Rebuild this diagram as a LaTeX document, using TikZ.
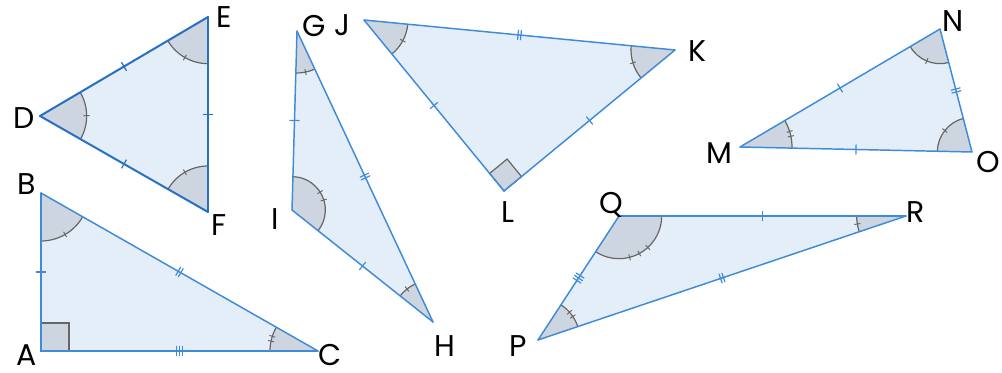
\documentclass[tikz,border=0pt]{standalone}
\usepackage{fontspec}
\setmainfont{Poppins}
\usetikzlibrary{calc,decorations.markings}
\definecolor{trifillc}{HTML}{E4EEF8}
\definecolor{edgec}{HTML}{3F8BD8}
\definecolor{edgedk}{HTML}{2670C4}
\definecolor{angfillc}{HTML}{CDD5E0}
\definecolor{arcc}{HTML}{666666}
\tikzset{
  trifill/.style={fill=trifillc},
  edge/.style={draw=edgec, line width=1.1pt, line cap=round, line join=round},
  edgedark/.style={draw=edgedk, line width=1.5pt, line cap=round, line join=round},
  angfill/.style={fill=angfillc},
  arcline/.style={draw=arcc, line width=0.9pt},
  angtick/.style={draw=arcc, line width=0.7pt},
  lab/.style={inner sep=0pt, font=\fontsize{22.5}{22.5}\selectfont},
  tk1/.style={postaction=decorate, decoration={markings, mark=at position 0.5 with {
      \draw[draw=#1, line width=0.9pt] (0pt,-3.5pt)--(0pt,3.5pt);}}},
  tk2/.style={postaction=decorate, decoration={markings, mark=at position 0.5 with {
      \draw[draw=#1, line width=0.9pt] (-1.1pt,-3.5pt)--(-1.1pt,3.5pt) (1.1pt,-3.5pt)--(1.1pt,3.5pt);}}},
  tk3/.style={postaction=decorate, decoration={markings, mark=at position 0.5 with {
      \draw[draw=#1, line width=0.9pt] (-2.2pt,-3.5pt)--(-2.2pt,3.5pt) (0pt,-3.5pt)--(0pt,3.5pt) (2.2pt,-3.5pt)--(2.2pt,3.5pt);}}},
  tk1/.default=edgec, tk2/.default=edgec, tk3/.default=edgec
}
% #1 P1, #2 vertex, #3 P2, #4 radius (pt, number), #5 ticks, #6 tick spacing (deg)
\newcommand\angmk[6]{%
  \pgfmathanglebetweenpoints{\pgfpointanchor{#2}{center}}{\pgfpointanchor{#1}{center}}\let\aA\pgfmathresult
  \pgfmathanglebetweenpoints{\pgfpointanchor{#2}{center}}{\pgfpointanchor{#3}{center}}\let\aB\pgfmathresult
  \pgfmathsetmacro\aD{mod(\aB-\aA+540,360)-180}%
  \pgfmathsetmacro\aM{\aA+\aD/2}%
  \pgfmathsetmacro\rIn{#4-2.3}%
  \fill[angfill] (#2) -- ++(\aA:#4pt) arc[start angle=\aA, delta angle=\aD, radius=#4pt] -- cycle;
  \draw[arcline] (#2) ++(\aA:#4pt) arc[start angle=\aA, delta angle=\aD, radius=#4pt];
  \foreach \k in {1,...,#5} {%
    \pgfmathsetmacro\aT{\aM+(\k-(#5+1)/2)*#6}%
    \draw[angtick] (#2) ++(\aT:\rIn pt) -- ++(\aT:4.6pt);}%
}
% right angle square: #1 P1, #2 vertex, #3 P2, #4 side
\newcommand\rtmk[4]{%
  \path ($(#2)!#4!(#1)$) coordinate (sqa) ($(#2)!#4!(#3)$) coordinate (sqb);
  \filldraw[angfill, draw=arcc, line width=0.9pt] (#2) -- (sqa) -- ($(sqa)+(sqb)-(#2)$) -- (sqb) -- cycle;
}
\begin{document}
\begin{tikzpicture}[x=0.75pt, y=-0.75pt]
\useasboundingbox (0,0) rectangle (1002,373);
% vertices
\coordinate (D) at (40,116); \coordinate (E) at (208,17); \coordinate (F) at (208,212);
\coordinate (A) at (41,351); \coordinate (B) at (41,193); \coordinate (C) at (318,351);
\coordinate (G) at (297,31); \coordinate (H) at (433,322); \coordinate (I) at (292,210);
\coordinate (J) at (364,20); \coordinate (K) at (675,50); \coordinate (L) at (504,191);
\coordinate (M) at (740,147); \coordinate (N) at (940,29); \coordinate (O) at (972,152);
\coordinate (P) at (538,340); \coordinate (Q) at (619,216); \coordinate (R) at (906,216);
% fills
\fill[trifill] (D)--(E)--(F)--cycle;
\fill[trifill] (A)--(B)--(C)--cycle;
\fill[trifill] (G)--(H)--(I)--cycle;
\fill[trifill] (J)--(K)--(L)--cycle;
\fill[trifill] (M)--(N)--(O)--cycle;
\fill[trifill] (P)--(Q)--(R)--cycle;
% angles
\angmk{E}{D}{F}{35}{1}{6}
\angmk{D}{E}{F}{35}{1}{6}
\angmk{D}{F}{E}{34.5}{1}{6}
\rtmk{B}{A}{C}{21pt}
\angmk{A}{B}{C}{36}{1}{6}
\angmk{A}{C}{B}{36}{2}{6}
\angmk{I}{G}{H}{31.5}{1}{6}
\angmk{G}{I}{H}{25}{2}{15}
\angmk{G}{H}{I}{31.5}{1}{6}
\angmk{K}{J}{L}{33}{1}{6}
\angmk{J}{K}{L}{33}{1}{6}
\rtmk{J}{L}{K}{17pt}
\angmk{N}{M}{O}{39}{2}{5.5}
\angmk{M}{N}{O}{26}{1}{6}
\angmk{M}{O}{N}{26}{1}{6}
\angmk{Q}{P}{R}{31.5}{2}{7.4}
\angmk{P}{Q}{R}{32}{3}{14}
\angmk{P}{R}{Q}{37}{1}{6}
% edges
\draw[edgedark, tk1=edgedk] (D)--(E);
\draw[edgedark, tk1=edgedk] (E)--(F);
\draw[edgedark, tk1=edgedk] (F)--(D);
\draw[edge, tk1] (A)--(B);
\draw[edge, tk2] (B)--(C);
\draw[edge, tk3] (A)--(C);
\draw[edge, tk1] (G)--(I);
\draw[edge, tk2] (G)--(H);
\draw[edge, tk1] (I)--(H);
\draw[edge, tk2] (J)--(K);
\draw[edge, tk1] (J)--(L);
\draw[edge, tk1] (K)--(L);
\draw[edge, tk1] (M)--(N);
\draw[edge, tk1] (M)--(O);
\draw[edge, tk2] (N)--(O);
\draw[edge, tk1] (Q)--(R);
\draw[edge, tk3] (P)--(Q);
\draw[edge, tk2] (P)--(R);
% labels
\node[lab] (lD) at (24,118) {D};
\node[lab] (lE) at (224,17) {E};
\node[lab] (lF) at (219,225) {F};
\node[lab] (lB) at (27,184) {B};
\node[lab] (lA) at (27,355) {A};
\node[lab] (lC) at (330,355) {C};
\node[lab] (lG) at (314,26) {G};
\node[lab] (lJ) at (342,25) {J};
\node[lab] (lI) at (275,219) {I};
\node[lab] (lH) at (445,346) {H};
\node[lab] (lK) at (697,51) {K};
\node[lab] (lL) at (508,212) {L};
\node[lab] (lM) at (719,153) {M};
\node[lab] (lN) at (953,21) {N};
\node[lab] (lO) at (988,162) {O};
\node[lab] (lQ) at (611,205) {Q};
\node[lab] (lR) at (916,212) {R};
\node[lab] (lP) at (518,346) {P};
\end{tikzpicture}
\end{document}
